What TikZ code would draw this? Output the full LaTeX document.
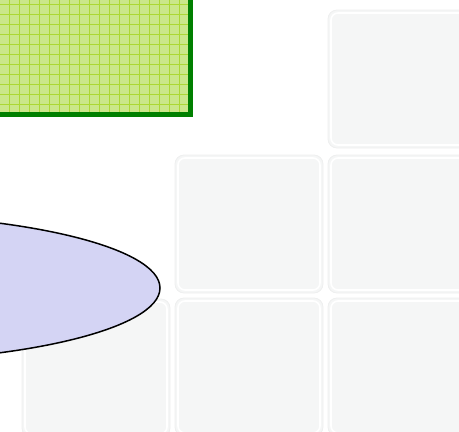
\documentclass[tikz,border=0pt]{standalone}
\usepackage{tikz}
\usetikzlibrary{calc}

\definecolor{tileFill}{RGB}{245,246,246}
\definecolor{tileEdge}{RGB}{238,239,239}
\definecolor{padFill}{RGB}{203,231,138}
\definecolor{padGrid}{RGB}{172,216,52}
\definecolor{padEdge}{RGB}{0,128,0}
\definecolor{blobFill}{RGB}{212,212,244}

\tikzset{
  tile/.style={fill=tileFill, draw=tileEdge, line width=0.8pt, rounded corners=9pt},
  tilerim/.style={draw=white, line width=1.6pt, rounded corners=7pt}
}

\begin{document}
\begin{tikzpicture}[x=1pt, y=-1pt]
  \useasboundingbox (0,0) rectangle (459,432);
  \clip (0,0) rectangle (459,432);
  \def\tw{148}   % tile width
  \def\th{138}   % tile height
  % background tiles
  \foreach \tx/\ty in {328/10, 175/155, 328/155, 22/299, 175/298, 328/298} {
    \draw[tile] (\tx,\ty) rectangle ++(\tw,\th);
    \draw[tilerim] (\tx+3,\ty+3) rectangle ++(\tw-6,\th-6);
  }
  % lavender ellipse, cut by the left edge
  \coordinate (E) at (-150,288);
  \draw[fill=blobFill, line width=1.5pt] (E) ellipse [x radius=310, y radius=74];
  % hatched green pad, cut by the top and left edges
  \coordinate (P_tl) at (-10,-10);
  \coordinate (P_br) at (190.5,114.5);
  \fill[padFill] (P_tl) rectangle (P_br);
  \foreach \gx in {-1,9,...,189} {
    \draw[padGrid, line width=1pt] (\gx,-10) -- (\gx,114);
  }
  \foreach \gy in {4,14,...,110} {
    \draw[padGrid, line width=1pt] (-10,\gy) -- (190,\gy);
  }
  \draw[padEdge, line width=5pt] (P_tl) rectangle (P_br);
\end{tikzpicture}
\end{document}
